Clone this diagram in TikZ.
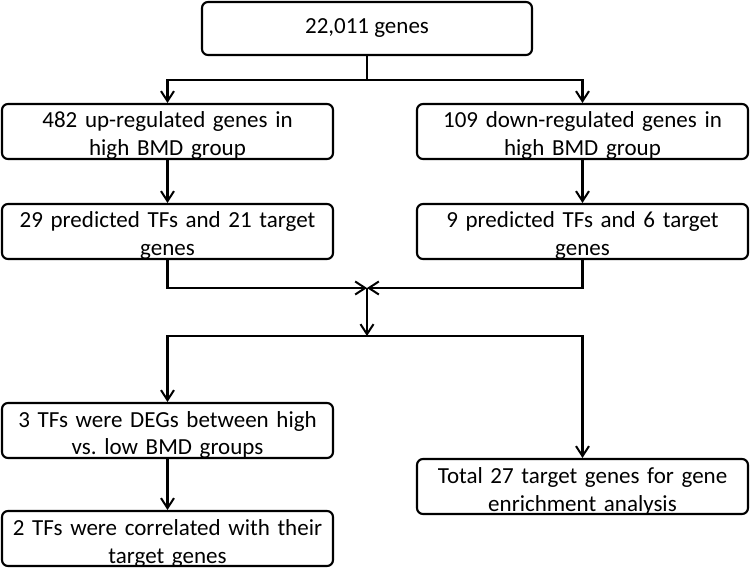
\documentclass[tikz,border=0pt]{standalone}
\usepackage{fontspec}
\setmainfont{Carlito}
\usetikzlibrary{arrows.meta}
\frenchspacing

\begin{document}
\begin{tikzpicture}[x=1pt,y=1pt,
  box/.style={draw=black,line width=2.1pt,rounded corners=6pt,fill=white,
    font=\fontsize{23}{28}\selectfont,align=center,text width=320pt,
    minimum width=331pt,inner xsep=0pt,inner ysep=0pt,
    text height=24pt,text depth=31pt,anchor=base},
  line/.style={line width=2.1pt},
  arr/.style={line width=2.1pt,-{Straight Barb[length=10pt,width=13pt,line width=2pt]}}
]
\useasboundingbox (0,0) rectangle (750,-569);

\node[draw=black,line width=2.1pt,rounded corners=6pt,minimum width=330pt,minimum height=53pt,
  font=\fontsize{23}{28}\selectfont] (genes) at (367,-28.5) {22,011 genes};

\node[box] (up) at (167.5,-128) {482 up-regulated genes in\\high BMD group};
\node[box] (down) at (582.5,-128) {109 down-regulated genes in\\high BMD group};
\node[box] (uptf) at (167.5,-228) {29 predicted TFs and 21 target\\genes};
\node[box] (downtf) at (582.5,-228) {9 predicted TFs and 6 target\\genes};
\node[box] (deg) at (167.5,-427) {3 TFs were DEGs between high\\vs. low BMD groups};
\node[box] (corr) at (167.5,-535) {2 TFs were correlated with their\\target genes};
\node[box] (total) at (582.5,-483) {Total 27 target genes for gene\\enrichment analysis};

\coordinate (split) at (367,-80);
\coordinate (merge) at (367,-288);
\coordinate (fork) at (367,-336);

\draw[line] (genes.south) -- (split);
\draw[arr] (split) -| (up.north);
\draw[arr] (split) -| (down.north);
\draw[arr] (up.south) -- (uptf.north);
\draw[arr] (down.south) -- (downtf.north);
\draw[arr] (uptf.south) |- (merge);
\draw[arr] (downtf.south) |- (merge);
\draw[arr] (merge) -- (fork);
\draw[arr] (fork) -| (deg.north);
\draw[arr] (fork) -| (total.north);
\draw[arr] (deg.south) -- (corr.north);
\end{tikzpicture}
\end{document}
